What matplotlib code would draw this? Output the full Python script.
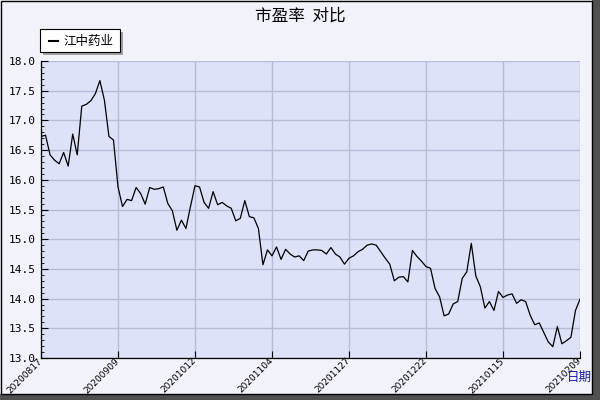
import matplotlib
matplotlib.use("Agg")
import matplotlib.pyplot as plt
from matplotlib.patches import Rectangle
from matplotlib.ticker import MultipleLocator

# ----------------
# Data
# ----------------
pe_values = [
    16.73, 16.75, 16.42, 16.33, 16.27, 16.46, 16.23, 16.77, 16.42, 17.24,
    17.27, 17.33, 17.45, 17.67, 17.34, 16.73, 16.67, 15.88, 15.55, 15.67,
    15.65, 15.87, 15.77, 15.59, 15.87, 15.84, 15.85, 15.88, 15.60, 15.48,
    15.15, 15.32, 15.18, 15.55, 15.90, 15.88, 15.62, 15.52, 15.80, 15.58,
    15.62, 15.56, 15.52, 15.31, 15.35, 15.65, 15.38, 15.36, 15.18, 14.57,
    14.82, 14.72, 14.87, 14.66, 14.83, 14.75, 14.70, 14.72, 14.64, 14.80,
    14.82, 14.82, 14.81, 14.75, 14.86, 14.75, 14.70, 14.58, 14.68, 14.72,
    14.79, 14.83, 14.90, 14.92, 14.90, 14.79, 14.68, 14.58, 14.30, 14.36,
    14.37, 14.28, 14.81, 14.71, 14.63, 14.54, 14.51, 14.17, 14.03, 13.71,
    13.74, 13.91, 13.95, 14.34, 14.45, 14.93, 14.38, 14.20, 13.84, 13.95,
    13.80, 14.12, 14.02, 14.06, 14.08, 13.92, 13.98, 13.95, 13.72, 13.56,
    13.59, 13.43, 13.27, 13.19, 13.53, 13.24, 13.29, 13.35, 13.80, 13.99,
]
tick_pos = [0, 17, 34, 51, 68, 85, 102, 119]
tick_labels = ["20200817", "20200909", "20201012", "20201104",
               "20201127", "20201222", "20210115", "20210209"]
series_name = "江中药业"

# ----------------
# Figure
# ----------------
plt.rcParams["font.family"] = ["Noto Sans CJK SC", "DejaVu Sans"]

fig = plt.figure(figsize=(6, 4), dpi=100, facecolor="#F2F2FA")
ax = fig.add_axes([41 / 600, 1 - 358 / 400, 539 / 600, 297 / 400])
ax.set_facecolor("#DDE2F8")

ax.plot(range(len(pe_values)), pe_values, color="black", linewidth=0.9)

ax.set_xlim(0, len(pe_values) - 1)
ax.set_ylim(13.0, 18.0)
ax.yaxis.set_major_locator(MultipleLocator(0.5))
ax.yaxis.set_minor_locator(MultipleLocator(0.1))
ax.set_yticklabels([f"{v:.1f}" for v in ax.get_yticks()],
                   family="DejaVu Sans Mono", fontsize=8)
ax.set_xticks(tick_pos)
ax.set_xticklabels(tick_labels, rotation=45, ha="right", va="center",
                   rotation_mode="anchor", fontsize=6.5, family="DejaVu Sans")

ax.tick_params(axis="y", which="major", direction="in", length=5, width=0.8, pad=4)
ax.tick_params(axis="y", which="minor", direction="in", length=2.5, width=0.6)
ax.tick_params(axis="x", direction="in", length=5, width=0.8, pad=1)

ax.grid(True, which="major", color="#B4BCD8", linewidth=1.0)
for side in ["top", "right"]:
    ax.spines[side].set_visible(False)
for side in ["left", "bottom"]:
    ax.spines[side].set_color("black")
    ax.spines[side].set_linewidth(0.9)

# ----------------
# Title, legend, axis label
# ----------------
fig.text(0.5, 1 - 16 / 400, "市盈率  对比", ha="center", va="center", fontsize=12)

fig.patches.append(Rectangle((43 / 600, 1 - 55 / 400), 80 / 600, 23 / 400,
                             transform=fig.transFigure, facecolor="#A0A0A0",
                             edgecolor="none"))
fig.patches.append(Rectangle((40 / 600, 1 - 52 / 400), 80 / 600, 23 / 400,
                             transform=fig.transFigure, facecolor="white",
                             edgecolor="black", linewidth=0.8))
fig.lines.append(plt.Line2D([49 / 600, 58 / 600], [1 - 41 / 400, 1 - 41 / 400],
                            transform=fig.transFigure, color="black", linewidth=1.5))
fig.text(63 / 600, 1 - 41 / 400, series_name, ha="left", va="center", fontsize=9)

fig.text(579 / 600, 1 - 377 / 400, "日期", ha="center", va="center",
         fontsize=9, color="#1A1AA8")

# ----------------
# Outer frame with shadow
# ----------------
fig.patches.append(Rectangle((592 / 600, 0), 8 / 600, 1, transform=fig.transFigure,
                             facecolor="#505050", edgecolor="none"))
fig.patches.append(Rectangle((0, 0), 1, 6 / 400, transform=fig.transFigure,
                             facecolor="#505050", edgecolor="none"))
fig.patches.append(Rectangle((0.5 / 600, 6 / 400), 591 / 600, 393 / 400,
                             transform=fig.transFigure, facecolor="none",
                             edgecolor="black", linewidth=1.0))

fig.savefig("out.png", dpi=100, facecolor=fig.get_facecolor())
